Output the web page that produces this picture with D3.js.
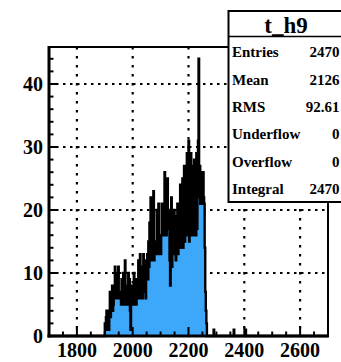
<!DOCTYPE html>
<html>
<head>
<meta charset="utf-8">
<script src="https://cdn.jsdelivr.net/npm/d3@7"></script>
<style>
  html, body { margin: 0; padding: 0; background: #fff; }
  svg { display: block; }
  svg text { font-family: "Liberation Serif", "Times New Roman", Tinos, "DejaVu Serif", serif !important; font-weight: 700; }
</style>
</head>
<body>
<svg id="chart" width="341" height="362"></svg>
<script>
// Histogram t_h9: 2-unit bins, filled from 1900 up to 2266
const binWidth = 2;
const firstBinLow = 1900;
const counts = [
  2,1,3,4,1,2,4,1,
  4,7,3,5,4,8,4,5,
  8,6,11,7,6,10,6,8,11,6,7,6,
  7,5,9,6,7,10,5,6,12,5,8,5,7,6,10,
  5,9,4,1,5,8,5,
  5,7,10,5,6,9,5,7,
  7,6,12,6,10,13,6,8,11,6,7,13,7,7,12,6,9,
  9,13,9,15,11,18,12,22,
  13,21,12,14,23,12,15,13,
  14,13,20,13,15,21,13,13,16,13,
  16,21,16,17,20,16,26,16,18,16,
  19,25,17,20,17,
  12,8,17,22,11,
  13,19,13,20,13,18,12,19,13,21,13,18,14,
  15,24,14,22,15,25,14,21,27,15,
  16,27,18,29,16,24,31,15,27,17,29,16,25,
  17,27,16,28,18,25,16,29,17,24,31,
  44,
  22,27,21,26,22,25,21,26,22,21,
  14,7,4,2
];
// isolated single entries further right
const extraBinLows = [2290, 2362, 2404];
const extraCounts = [1, 1, 1];

// axis settings
const xDomain = [1700, 2700];
const yDomain = [0, 45.87];
const xMajorTicks = [1800, 2000, 2200, 2400, 2600];
const xTickLabels = ["1800", "2000", "2200", "2400", "2600"];
const yMajorTicks = [0, 10, 20, 30, 40];
const yTickLabels = ["0", "10", "20", "30", "40"];

// statistics box
const statTitle = "t_h9";
const statNames = ["Entries", "Mean", "RMS", "Underflow", "Overflow", "Integral"];
const statValues = ["2470", "2126", "92.61", "0", "0", "2470"];

const svg = d3.select("#chart");
const frameL = 49, frameR = 328, frameT = 47, frameB = 336;

const x = d3.scaleLinear().domain(xDomain).range([frameL, frameR]);
const y = d3.scaleLinear().domain(yDomain).range([frameB, frameT]);

// full bin table over the axis range
const nBins = Math.round((xDomain[1] - xDomain[0]) / binWidth);
const bins = d3.range(nBins).map(i => ({ x0: xDomain[0] + i * binWidth, c: 0 }));
counts.forEach((c, i) => {
  const k = Math.round((firstBinLow + i * binWidth - xDomain[0]) / binWidth);
  bins[k].c = c;
});
extraBinLows.forEach((lo, i) => {
  const k = Math.round((lo - xDomain[0]) / binWidth);
  bins[k].c = extraCounts[i];
});
const stepData = bins.map(b => [b.x0, b.c]).concat([[xDomain[1], bins[nBins - 1].c]]);

// grid
const grid = svg.append("g");
grid.selectAll("line.gx").data(xMajorTicks).join("line")
  .attr("x1", d => x(d)).attr("x2", d => x(d))
  .attr("y1", frameT).attr("y2", frameB)
  .attr("stroke", "#000").attr("stroke-width", 2.2)
  .attr("stroke-dasharray", "2.5,6.5");
grid.selectAll("line.gy").data(yMajorTicks.filter(v => v > 0)).join("line")
  .attr("x1", frameL).attr("x2", frameR)
  .attr("y1", d => y(d)).attr("y2", d => y(d))
  .attr("stroke", "#000").attr("stroke-width", 2.2)
  .attr("stroke-dasharray", "2.5,4.5");

// histogram fill and outline
const area = d3.area().curve(d3.curveStepAfter)
  .x(d => x(d[0])).y0(y(0)).y1(d => y(d[1]));
const line = d3.line().curve(d3.curveStepAfter)
  .x(d => x(d[0])).y(d => y(d[1]));
svg.append("path").datum(stepData).attr("d", area)
  .attr("fill", "#3da8fa").attr("stroke", "none");
svg.append("path").datum(stepData).attr("d", line)
  .attr("fill", "none").attr("stroke", "#000").attr("stroke-width", 2.4);

// frame
svg.append("rect").attr("x", frameL).attr("y", frameT)
  .attr("width", frameR - frameL).attr("height", frameB - frameT)
  .attr("fill", "none").attr("stroke", "#000").attr("stroke-width", 2);
svg.append("line").attr("x1", frameL).attr("x2", frameL).attr("y1", frameT - 1).attr("y2", frameB + 1.5)
  .attr("stroke", "#000").attr("stroke-width", 3);
svg.append("line").attr("x1", frameL - 1.5).attr("x2", frameR + 1).attr("y1", frameB).attr("y2", frameB)
  .attr("stroke", "#000").attr("stroke-width", 3);

// y ticks: major every 10, minor every 2
const yMinor = d3.range(0, yDomain[1], 2).filter(v => v % 10 !== 0);
svg.append("g").selectAll("line").data(yMajorTicks).join("line")
  .attr("x1", frameL).attr("x2", frameL + 9)
  .attr("y1", d => y(d)).attr("y2", d => y(d))
  .attr("stroke", "#000").attr("stroke-width", 2);
svg.append("g").selectAll("line").data(yMinor).join("line")
  .attr("x1", frameL).attr("x2", frameL + 4.5)
  .attr("y1", d => y(d)).attr("y2", d => y(d))
  .attr("stroke", "#000").attr("stroke-width", 2);

// x ticks: major every 200, minor every 50
const xMinor = d3.range(1750, xDomain[1], 50).filter(v => !xMajorTicks.includes(v));
svg.append("g").selectAll("line").data(xMajorTicks).join("line")
  .attr("x1", d => x(d)).attr("x2", d => x(d))
  .attr("y1", frameB).attr("y2", frameB - 9)
  .attr("stroke", "#000").attr("stroke-width", 2);
svg.append("g").selectAll("line").data(xMinor).join("line")
  .attr("x1", d => x(d)).attr("x2", d => x(d))
  .attr("y1", frameB).attr("y2", frameB - 4.5)
  .attr("stroke", "#000").attr("stroke-width", 2);

// tick labels
svg.append("g").selectAll("text").data(xMajorTicks).join("text")
  .attr("x", d => x(d)).attr("y", 357)
  .attr("text-anchor", "middle").attr("font-size", 20)
  .text((d, i) => xTickLabels[i]);
svg.append("g").selectAll("text").data(yMajorTicks).join("text")
  .attr("x", 43).attr("y", d => y(d) + 7)
  .attr("text-anchor", "end").attr("font-size", 20)
  .text((d, i) => yTickLabels[i]);

// statistics box
const box = svg.append("g");
const bx = 228.5, by = 11, bw = 116, bh = 191;
box.append("rect").attr("x", bx).attr("y", by).attr("width", bw).attr("height", bh)
  .attr("fill", "#fff").attr("stroke", "#000").attr("stroke-width", 2);
box.append("line").attr("x1", bx).attr("x2", bx + bw).attr("y1", 36.5).attr("y2", 36.5)
  .attr("stroke", "#000").attr("stroke-width", 1.5);
box.append("text").attr("x", 286).attr("y", 32.5)
  .attr("text-anchor", "middle").attr("font-size", 23).text(statTitle);
box.selectAll("text.name").data(statNames).join("text").attr("class", "name")
  .attr("x", 232).attr("y", (d, i) => 57.3 + i * 27.3)
  .attr("font-size", 15).text(d => d);
box.selectAll("text.val").data(statValues).join("text").attr("class", "val")
  .attr("x", 339.5).attr("y", (d, i) => 57.3 + i * 27.3)
  .attr("text-anchor", "end").attr("font-size", 15).text(d => d);
</script>
</body>
</html>
